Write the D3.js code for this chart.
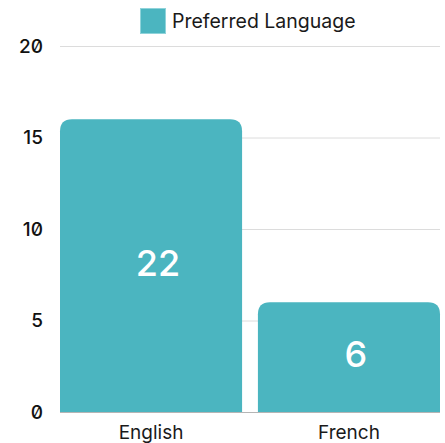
<!DOCTYPE html>
<html lang="en">
<head>
<meta charset="UTF-8">
<title>Preferred Language</title>
<script src="https://d3js.org/d3.v7.min.js"></script>
<style>
body { margin: 0; background: #fff; }
text { font-family: Inter, "Noto Sans", sans-serif; fill: #1a1a1a; }
.tick text { font-size: 19px; font-weight: 500; fill: #111; font-variant-numeric: slashed-zero; }
.xlab { font-size: 19px; }
.grid line { stroke: #dcdcdc; }
.barlabel { fill: #fff; font-size: 36px; font-weight: 500; }
</style>
</head>
<body>
<svg id="chart" width="445" height="443"></svg>
<script>
const categories = ["English", "French"];
const barValues = [16, 6];        // bar heights as drawn
const valueLabels = ["22", "6"];  // numbers printed inside the bars
const yTicks = [0, 5, 10, 15, 20];
const seriesName = "Preferred Language";
const color = "#4bb5c0";

const svg = d3.select("#chart");
const margin = {left: 60, right: 5, top: 46, bottom: 31};
const W = 445, H = 443;

const x = d3.scaleBand()
    .domain(categories)
    .range([margin.left, W - margin.right])
    .paddingInner(0.08)
    .paddingOuter(0);
const y = d3.scaleLinear().domain([0, 20]).range([H - margin.bottom, margin.top]);

// gridlines
svg.append("g").attr("class", "grid")
  .selectAll("line").data(yTicks).join("line")
    .attr("x1", margin.left).attr("x2", W - margin.right)
    .attr("y1", d => y(d) + 0.5).attr("y2", d => y(d) + 0.5)
    .style("stroke", d => d === 0 ? "#b5b5b5" : null);

// y tick labels
svg.append("g").attr("class", "tick")
  .selectAll("text").data(yTicks).join("text")
    .attr("x", 43).attr("y", d => y(d))
    .attr("dy", "0.36em")
    .attr("text-anchor", "end")
    .text(d => d);

// bars with rounded top corners
const r = 12;
function barPath(x0, w, yTop, yBot) {
  return `M${x0},${yBot}V${yTop + r}Q${x0},${yTop} ${x0 + r},${yTop}` +
         `H${x0 + w - r}Q${x0 + w},${yTop} ${x0 + w},${yTop + r}V${yBot}Z`;
}
const rows = categories.map((c, i) => ({cat: c, v: barValues[i], lab: valueLabels[i]}));

svg.append("g").selectAll("path").data(rows).join("path")
    .attr("d", d => barPath(x(d.cat), x.bandwidth(), y(d.v), y(0)))
    .attr("fill", color);

svg.append("g").selectAll("text").data(rows).join("text")
    .attr("class", "barlabel")
    .attr("x", d => x(d.cat) + x.bandwidth() / 2 + 7)
    .attr("y", d => (y(d.v) + y(0)) / 2 + 10)
    .attr("text-anchor", "middle")
    .text(d => d.lab);

// category labels
svg.append("g").selectAll("text").data(categories).join("text")
    .attr("class", "xlab")
    .attr("x", d => x(d) + x.bandwidth() / 2)
    .attr("y", 439)
    .attr("text-anchor", "middle")
    .text(d => d);

// legend
const lg = svg.append("g");
lg.append("rect").attr("x", 140.5).attr("y", 8.5).attr("width", 25).attr("height", 25)
    .attr("fill", color).attr("stroke", "#8fd3da").attr("stroke-width", 1);
lg.append("text").attr("x", 172).attr("y", 27.5)
    .style("font-size", "19.5px")
    .text(seriesName);
</script>
</body>
</html>
